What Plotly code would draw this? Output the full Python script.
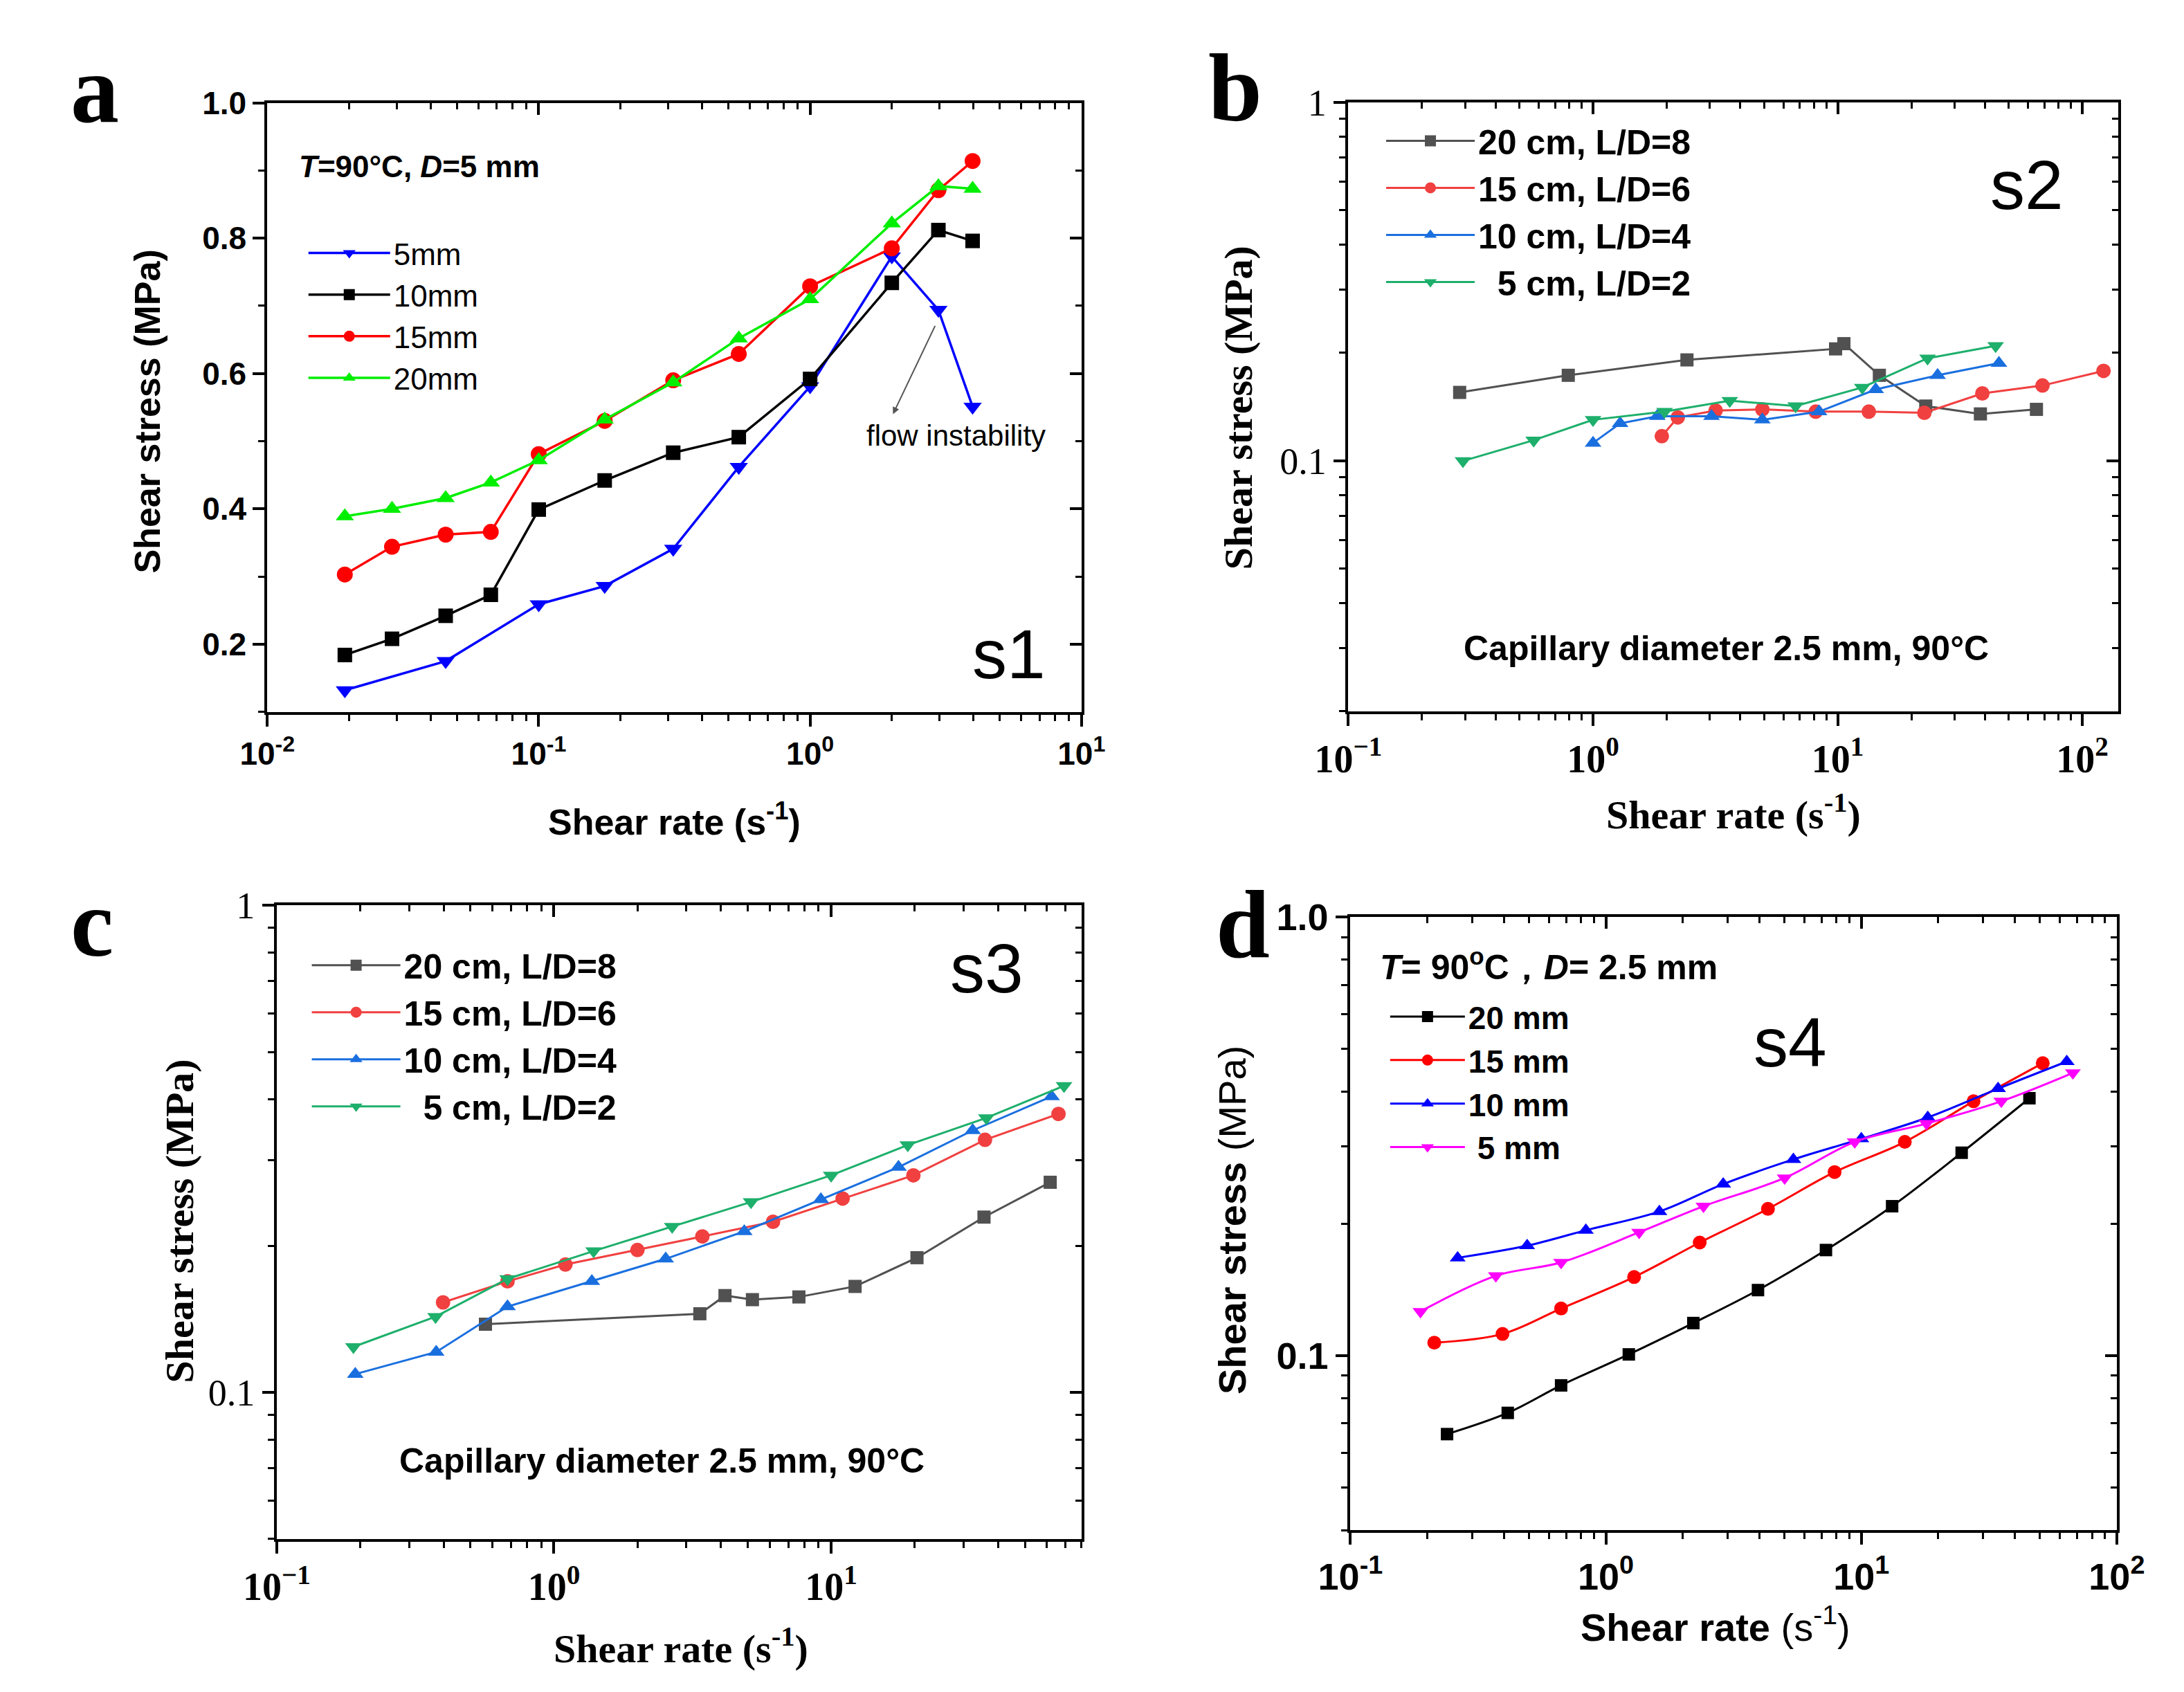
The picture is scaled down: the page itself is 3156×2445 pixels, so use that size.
import numpy as np
import plotly.graph_objects as go

W, H = 3156, 2445

# ---- panel a : T=90C, D=5 mm (linear stress axis)
a_rate = [0.0193, 0.0288, 0.0454, 0.0666, 0.100, 0.175, 0.313, 0.546, 1.00, 2.00, 2.97, 3.97]
a_rate_5mm = [0.0193, 0.0454, 0.100, 0.175, 0.313, 0.546, 1.00, 2.00, 2.97, 3.97]
a_5mm = [0.132, 0.175, 0.259, 0.286, 0.341, 0.462, 0.581, 0.773, 0.694, 0.551]
a_10mm = [0.184, 0.208, 0.242, 0.273, 0.399, 0.442, 0.483, 0.506, 0.592, 0.734, 0.812, 0.796]
a_15mm = [0.303, 0.344, 0.362, 0.366, 0.481, 0.530, 0.590, 0.629, 0.729, 0.785, 0.871, 0.914]
a_20mm = [0.389, 0.400, 0.416, 0.439, 0.472, 0.532, 0.587, 0.652, 0.710, 0.822, 0.877, 0.873]

# ---- panel b : s2, capillary 2.5 mm
b_20_x = [0.285, 0.792, 2.42, 9.8, 10.6, 14.8, 22.9, 38.3, 64.9]
b_20_y = [0.155, 0.173, 0.191, 0.205, 0.212, 0.173, 0.142, 0.135, 0.139]
b_15_x = [1.91, 2.22, 3.17, 4.92, 8.13, 13.4, 22.6, 39.0, 68.7, 122]
b_15_y = [0.117, 0.132, 0.138, 0.139, 0.137, 0.137, 0.136, 0.154, 0.162, 0.178]
b_10_x = [1.0, 1.29, 1.83, 3.05, 4.92, 8.39, 14.3, 25.6, 45.6]
b_10_y = [0.112, 0.127, 0.133, 0.133, 0.130, 0.137, 0.158, 0.173, 0.187]
b_5_x = [0.294, 0.572, 1.0, 1.96, 3.62, 6.73, 12.6, 23.3, 44.2]
b_5_y = [0.0998, 0.114, 0.130, 0.137, 0.147, 0.142, 0.160, 0.193, 0.209]

# ---- panel c : s3
c_20_x = [0.566, 3.36, 4.14, 5.2, 7.65, 12.2, 20.4, 35.6, 61.7]
c_20_y = [0.138, 0.145, 0.158, 0.155, 0.157, 0.165, 0.189, 0.229, 0.270]
c_15_x = [0.398, 0.68, 1.10, 2.0, 3.43, 6.17, 11.0, 19.8, 35.9, 66.1]
c_15_y = [0.153, 0.169, 0.183, 0.196, 0.209, 0.224, 0.250, 0.279, 0.330, 0.373]
c_10_x = [0.192, 0.376, 0.68, 1.37, 2.53, 4.86, 9.18, 17.5, 32.4, 62.4]
c_10_y = [0.109, 0.121, 0.150, 0.169, 0.188, 0.214, 0.249, 0.290, 0.345, 0.405]
c_5_x = [0.189, 0.374, 0.68, 1.39, 2.67, 5.14, 10.0, 18.9, 36.3, 69.2]
c_5_y = [0.124, 0.143, 0.171, 0.195, 0.219, 0.246, 0.279, 0.322, 0.366, 0.426]

# ---- panel d : s4
d_20_x = [0.239, 0.413, 0.668, 1.23, 2.2, 3.94, 7.27, 13.2, 24.7, 45.5]
d_20_y = [0.0662, 0.074, 0.0855, 0.1006, 0.1186, 0.141, 0.174, 0.219, 0.290, 0.386]
d_15_x = [0.213, 0.394, 0.668, 1.29, 2.33, 4.31, 7.86, 14.8, 27.5, 51.3]
d_15_y = [0.107, 0.112, 0.128, 0.151, 0.181, 0.216, 0.262, 0.307, 0.380, 0.464]
d_10_x = [0.263, 0.492, 0.835, 1.62, 2.88, 5.42, 10.0, 18.2, 34.3, 63.7]
d_10_y = [0.167, 0.178, 0.193, 0.213, 0.246, 0.280, 0.312, 0.349, 0.406, 0.468]
d_5_x = [0.188, 0.371, 0.668, 1.35, 2.41, 5.01, 9.42, 18.0, 35.3, 67.3]
d_5_y = [0.126, 0.152, 0.163, 0.191, 0.219, 0.254, 0.307, 0.338, 0.380, 0.441]

# tick labels
a_xticks = [0.01, 0.1, 1, 10]
a_xlabels = ["10<sup>-2</sup>", "10<sup>-1</sup>", "10<sup>0</sup>", "10<sup>1</sup>"]
b_xticks = [0.1, 1, 10, 100]
b_xlabels = ["10<sup>\u22121</sup>", "10<sup>0</sup>", "10<sup>1</sup>", "10<sup>2</sup>"]
c_xticks = [0.1, 1, 10]
c_xlabels = ["10<sup>\u22121</sup>", "10<sup>0</sup>", "10<sup>1</sup>"]
d_xticks = [0.1, 1, 10, 100]
d_xlabels = ["10<sup>-1</sup>", "10<sup>0</sup>", "10<sup>1</sup>", "10<sup>2</sup>"]
bc_yticks = [0.1, 1]
bc_ylabels = ["0.1", "1"]
d_ylabels = ["0.1", "1.0"]

SANS = "Liberation Sans, Arial, sans-serif"
NARROW = "Liberation Sans Narrow, Arial Narrow, Liberation Sans, sans-serif"
SERIF = "Liberation Serif, Times New Roman, serif"


def fx(p):
    return p / W


def fy(p):
    return 1 - p / H


# plot boxes in pixels: left, right, top, bottom
boxes = {
    "a": (339, 1550, 112, 1003),
    "b": (1947, 3092, 111, 1002),
    "c": (353, 1550, 1286, 2213),
    "d": (1950, 3090, 1303, 2200),
}

fig = go.Figure()


def add(x, y, name, color, symbol, xa, ya, leg, size=21, lw=3, shape="linear"):
    fig.add_trace(go.Scatter(
        x=x, y=y, name=name, mode="lines+markers", xaxis=xa, yaxis=ya, legend=leg,
        line=dict(color=color, width=lw, shape=shape),
        marker=dict(color=color, symbol=symbol, size=size, line=dict(width=0)),
    ))


# panel a
add(a_rate_5mm, a_5mm, "5mm", "#0000FF", "triangle-down", "x", "y", "legend", 23, 3.5)
add(a_rate, a_10mm, "10mm", "#000000", "square", "x", "y", "legend", 21, 3.5)
add(a_rate, a_15mm, "15mm", "#FF0000", "circle", "x", "y", "legend", 23, 3.5)
add(a_rate, a_20mm, "20mm", "#00EE00", "triangle-up", "x", "y", "legend", 23, 3.5)

# panel b
add(b_20_x, b_20_y, "20 cm, L/D=8", "#515151", "square", "x2", "y2", "legend2", 19)
add(b_15_x, b_15_y, "15 cm, L/D=6", "#F14040", "circle", "x2", "y2", "legend2")
add(b_10_x, b_10_y, "10 cm, L/D=4", "#1A6FDF", "triangle-up", "x2", "y2", "legend2")
add(b_5_x, b_5_y, "\u00a0\u00a05 cm, L/D=2", "#1DAF6B", "triangle-down", "x2", "y2", "legend2")

# panel c
add(c_20_x, c_20_y, "20 cm, L/D=8", "#515151", "square", "x3", "y3", "legend3", 19)
add(c_15_x, c_15_y, "15 cm, L/D=6", "#F14040", "circle", "x3", "y3", "legend3")
add(c_10_x, c_10_y, "10 cm, L/D=4", "#1A6FDF", "triangle-up", "x3", "y3", "legend3")
add(c_5_x, c_5_y, "\u00a0\u00a05 cm, L/D=2", "#1DAF6B", "triangle-down", "x3", "y3", "legend3")

# panel d (smoothed lines)
add(d_20_x, d_20_y, "20 mm", "#000000", "square", "x4", "y4", "legend4", 18, 3, "spline")
add(d_15_x, d_15_y, "15 mm", "#FF0000", "circle", "x4", "y4", "legend4", 20, 3, "spline")
add(d_10_x, d_10_y, "10 mm", "#0000FF", "triangle-up", "x4", "y4", "legend4", 20, 3, "spline")
add(d_5_x, d_5_y, "\u00a05 mm", "#FF00FF", "triangle-down", "x4", "y4", "legend4", 20, 3, "spline")

# axes
ax_common = dict(showline=True, linecolor="black", linewidth=4, showgrid=False, zeroline=False,
                 ticks="outside", ticklen=17, tickwidth=3.5, tickcolor="black")


def minor(log, inside=False, dtick=None):
    m = dict(ticks="inside" if inside else "outside", ticklen=9, tickwidth=3, tickcolor="black", showgrid=False)
    if log:
        m["dtick"] = "D1"
    else:
        m["dtick"] = dtick
    return m


panels = [
    # key, x id, y id, xrange(log), yrange, ylog, xticks, xlabels, xfont, yticks, ylabels, yfont
    ("a", "", "", [-2, 1], [0.1, 1.0], False, a_xticks, a_xlabels,
     dict(family=SANS, size=46, weight="bold", color="black"), None, None,
     dict(family=SANS, size=46, weight="bold", color="black")),
    ("b", "2", "2", [-1, np.log10(140)], [np.log10(0.02), 0], True, b_xticks, b_xlabels,
     dict(family=SERIF, size=56, weight="bold", color="black"), bc_yticks, bc_ylabels,
     dict(family=SERIF, size=54, color="black")),
    ("c", "3", "3", [-1, np.log10(80)], [np.log10(0.05), 0], True, c_xticks, c_xlabels,
     dict(family=SERIF, size=56, weight="bold", color="black"), bc_yticks, bc_ylabels,
     dict(family=SERIF, size=54, color="black")),
    ("d", "4", "4", [-1, 2], [np.log10(0.04), 0], True, d_xticks, d_xlabels,
     dict(family=NARROW, size=54, weight="bold", color="black"), bc_yticks, d_ylabels,
     dict(family=NARROW, size=54, weight="bold", color="black")),
]

layout_axes = {}
for i, (key, xs, ys, xr, yr, ylog, xt, xl, xf, yt, yl, yf) in enumerate(panels):
    l, r, t, b = boxes[key]
    xname = "xaxis" + xs
    yname = "yaxis" + ys
    xid = "x" + xs
    yid = "y" + ys
    layout_axes[xname] = dict(ax_common, type="log", range=xr, domain=[fx(l), fx(r)], anchor=yid,
                              tickmode="array", tickvals=xt, ticktext=xl, tickfont=xf,
                              minor=minor(True))
    if ylog:
        layout_axes[yname] = dict(ax_common, type="log", range=yr, domain=[fy(b), fy(t)], anchor=xid,
                                  tickmode="array", tickvals=yt, ticktext=yl, tickfont=yf,
                                  minor=minor(True))
    else:
        layout_axes[yname] = dict(ax_common, type="linear", range=yr, domain=[fy(b), fy(t)], anchor=xid,
                                  tick0=0.2, dtick=0.2, tickformat=".1f", tickfont=yf,
                                  minor=minor(False, dtick=0.1))
    # mirror axes on top / right with ticks pointing inward
    n = 5 + i
    top = dict(layout_axes[xname])
    top.update(overlaying=xid, side="top", anchor=yid, ticks="inside", showticklabels=False,
               minor=minor(True, inside=True))
    top.pop("domain")
    right = dict(layout_axes[yname])
    right.update(overlaying=yid, side="right", anchor=xid, ticks="inside", showticklabels=False,
                 minor=minor(ylog, inside=True, dtick=0.1))
    right.pop("domain")
    layout_axes["xaxis%d" % n] = top
    layout_axes["yaxis%d" % n] = right

# invisible helper traces so the mirror axes get drawn
for i, (key, xs, ys, *_rest) in enumerate(panels):
    n = 5 + i
    src = fig.data[4 * i]
    fig.add_trace(go.Scatter(x=src.x, y=src.y, xaxis="x%d" % n, yaxis="y" + ys, mode="lines",
                             line=dict(width=0), opacity=0, showlegend=False, hoverinfo="skip"))
    fig.add_trace(go.Scatter(x=src.x, y=src.y, xaxis="x" + xs, yaxis="y%d" % n, mode="lines",
                             line=dict(width=0), opacity=0, showlegend=False, hoverinfo="skip"))

annotations = []


def text(x, y, s, font, xanchor="left", yanchor="middle", angle=0):
    annotations.append(dict(x=fx(x), y=fy(y), xref="paper", yref="paper", text=s, showarrow=False,
                            font=font, xanchor=xanchor, yanchor=yanchor, textangle=angle))


# panel letters
letter_font = dict(family=SERIF, size=140, color="black", weight="bold")
text(44, 92, "a", letter_font)
text(1737, 90, "b", letter_font)
text(44, 1312, "c", letter_font)
text(1748, 1314, "d", letter_font)

# sample labels
s_font = dict(family=SANS, size=100, color="black")
text(1386, 918, "s1", s_font)
text(2900, 232, "s2", s_font)
text(1353, 1378, "s3", s_font)
text(2548, 1486, "s4", s_font)

# axis titles
fa = dict(family=SANS, size=52, color="black", weight="bold")
text(161, 563, "Shear stress (MPa)", fa, "center", "middle", -90)
text(944, 1160, "Shear rate (s<sup>-1</sup>)", fa, "center", "middle")
fb = dict(family=SERIF, size=58, color="black", weight="bold")
text(1783, 558, "Shear stress (MPa)", fb, "center", "middle", -90)
text(2520, 1150, "Shear rate (s<sup>-1</sup>)", fb, "center", "middle")
text(209, 1748, "Shear stress (MPa)", fb, "center", "middle", -90)
text(954, 2370, "Shear rate (s<sup>-1</sup>)", fb, "center", "middle")
fd = dict(family=SANS, size=56, color="black")
text(1774, 1746, "<b>Shear stress</b> (MPa)", fd, "center", "middle", -90)
text(2493, 2338, "<b>Shear rate</b> (s<sup>-1</sup>)", fd, "center", "middle")

# conditions
text(384, 205, "<i>T</i>=90°C, <i>D</i>=5 mm", dict(family=SANS, size=44, color="black", weight="bold"))
cap = dict(family=SANS, size=50, color="black", weight="bold")
text(2509, 910, "Capillary diameter 2.5 mm, 90°C", cap, "center")
text(926, 2099, "Capillary diameter 2.5 mm, 90°C", cap, "center")
text(1992, 1373, "<i>T</i>= 90<sup>o</sup>C\uff0c<i>D</i>= 2.5 mm", dict(family=NARROW, size=50, color="black", weight="bold"))

# flow instability note (data coordinates on panel a, log x)
annotations.append(dict(x=np.log10(2.02), y=0.540, ax=np.log10(2.9), ay=0.672, xref="x", yref="y",
                        axref="x", ayref="y", text="", showarrow=True, arrowhead=2, arrowsize=1,
                        arrowwidth=2, arrowcolor="#555555"))
annotations.append(dict(x=np.log10(3.45), y=0.508, xref="x", yref="y", text="flow instability",
                        showarrow=False, font=dict(family=NARROW, size=42, color="black")))

leg_common = dict(bgcolor="rgba(0,0,0,0)", xanchor="left", yanchor="top", tracegroupgap=0,
                  borderwidth=0)

fig.update_layout(
    width=W, height=H, margin=dict(l=0, r=0, t=0, b=0),
    paper_bgcolor="white", plot_bgcolor="white",
    font=dict(family=SANS, color="black"),
    annotations=annotations,
    legend=dict(leg_common, x=fx(395), y=fy(296), itemwidth=118,
                font=dict(family=SANS, size=44, color="black")),
    legend2=dict(leg_common, x=fx(1998), y=fy(128), itemwidth=128,
                 font=dict(family=SANS, size=50, color="black", weight="bold")),
    legend3=dict(leg_common, x=fx(400), y=fy(1334), itemwidth=128,
                 font=dict(family=SANS, size=50, color="black", weight="bold")),
    legend4=dict(leg_common, x=fx(2004), y=fy(1412), itemwidth=108,
                 font=dict(family=NARROW, size=46, color="black", weight="bold")),
    **layout_axes,
)

fig.write_html("out.html")
